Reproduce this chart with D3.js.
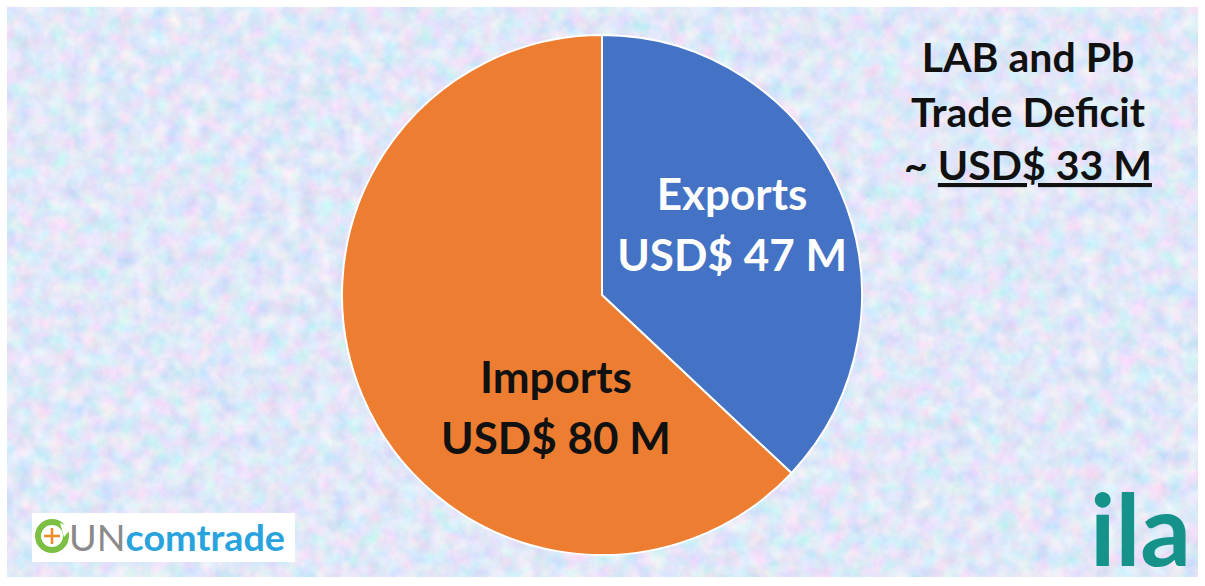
<!DOCTYPE html>
<html lang="en">
<head>
<meta charset="utf-8">
<title>LAB and Pb trade</title>
<script src="https://d3js.org/d3.v7.min.js"></script>
<style>
  body { margin: 0; background: #fff; }
  text { font-family: Lato, "Open Sans", sans-serif; font-weight: 700; }
</style>
</head>
<body>
<div id="chart"></div>
<script>
// data
var categories = ["Exports", "Imports"];
var values = [47, 80];
var valueLabels = ["USD$ 47 M", "USD$ 80 M"];
var colors = ["#4472C4", "#ED7D31"];
var titleLines = ["LAB and Pb", "Trade Deficit"];
var deficitLabel = "USD$ 33 M";

var w = 1205, h = 586;

var svg = d3.select("#chart").append("svg")
    .attr("width", w)
    .attr("height", h);

// textured background (blotchy pastel blue)
var defs = svg.append("defs");
var f = defs.append("filter").attr("id", "tex")
    .attr("x", 0).attr("y", 0).attr("width", "100%").attr("height", "100%");
f.append("feTurbulence").attr("type", "fractalNoise")
    .attr("baseFrequency", 0.06).attr("numOctaves", 5).attr("seed", 7)
    .attr("result", "n");
f.append("feColorMatrix").attr("in", "n").attr("type", "matrix")
    .attr("values", "0.6 0 0 0 0.45  0 0.35 0 0 0.63  0 0 0.2 0 0.84  0 0 0 0 1");

svg.append("rect")
    .attr("x", 7).attr("y", 7)
    .attr("width", 1191).attr("height", 570)
    .attr("fill", "#c9d7f4");
svg.append("rect")
    .attr("x", 7).attr("y", 7)
    .attr("width", 1191).attr("height", 570)
    .attr("filter", "url(#tex)");

// pie
var cx = 602, cy = 295, r = 260;
var pie = d3.pie().sort(null).value(function (d) { return d; });
var arc = d3.arc().innerRadius(0).outerRadius(r);
var arcs = pie(values);

var g = svg.append("g").attr("transform", "translate(" + cx + "," + cy + ")");
g.selectAll("path")
    .data(arcs)
    .enter()
    .append("path")
    .attr("d", arc)
    .attr("fill", function (d, i) { return colors[i]; })
    .attr("stroke", "#fff")
    .attr("stroke-width", 2);

// slice labels
var labelArc = d3.arc().innerRadius(r * 0.52).outerRadius(r * 0.52);
var labelOffsets = [[6, -17], [78, 58]];
var lbl = g.selectAll("g.lbl")
    .data(arcs)
    .enter()
    .append("g")
    .attr("class", "lbl")
    .attr("transform", function (d, i) {
        var c = labelArc.centroid(d);
        return "translate(" + (c[0] + labelOffsets[i][0]) + "," + (c[1] + labelOffsets[i][1]) + ")";
    });
lbl.append("text")
    .attr("text-anchor", "middle")
    .attr("y", -14)
    .attr("font-size", 44)
    .attr("fill", function (d, i) { return i === 0 ? "#fff" : "#111"; })
    .text(function (d, i) { return categories[i]; });
lbl.append("text")
    .attr("text-anchor", "middle")
    .attr("y", 47)
    .attr("font-size", 44)
    .attr("fill", function (d, i) { return i === 0 ? "#fff" : "#111"; })
    .text(function (d, i) { return valueLabels[i]; });

// title block
var t = svg.append("g").attr("transform", "translate(1028,0)");
t.selectAll("text.tl")
    .data(titleLines)
    .enter()
    .append("text")
    .attr("class", "tl")
    .attr("text-anchor", "middle")
    .attr("y", function (d, i) { return 72 + i * 55; })
    .attr("font-size", 41)
    .attr("fill", "#111")
    .text(function (d) { return d; });
var last = t.append("text")
    .attr("text-anchor", "middle")
    .attr("y", 180)
    .attr("font-size", 41)
    .attr("fill", "#111");
last.append("tspan").text("~ ");
last.append("tspan").attr("text-decoration", "underline").text(deficitLabel);

// UN comtrade logo
var lg = svg.append("g").attr("transform", "translate(32,513)");
lg.append("rect").attr("width", 263).attr("height", 49).attr("fill", "#fff");
lg.append("circle").attr("cx", 20).attr("cy", 23).attr("r", 14)
    .attr("fill", "none").attr("stroke", "#7cc043").attr("stroke-width", 6);
lg.append("path").attr("d", "M28,10 L40,14 L32,24 Z").attr("fill", "#fff");
lg.append("path").attr("d", "M20,15 V31 M12,23 H28")
    .attr("stroke", "#f08a24").attr("stroke-width", 2.5);
var lt = lg.append("text").attr("x", 37).attr("y", 38).attr("font-size", 37)
    .attr("textLength", 216).attr("lengthAdjust", "spacingAndGlyphs");
lt.append("tspan").style("font-weight", 400).attr("fill", "#8a8a8a").text("UN");
lt.append("tspan").attr("fill", "#29a3dd").text("comtrade");

// ila logo
var il = svg.append("g").attr("transform", "translate(1090,0)");
il.append("text").attr("x", 0).attr("y", 566).attr("font-size", 100)
    .attr("fill", "#15938a").text("ila");
</script>
</body>
</html>
